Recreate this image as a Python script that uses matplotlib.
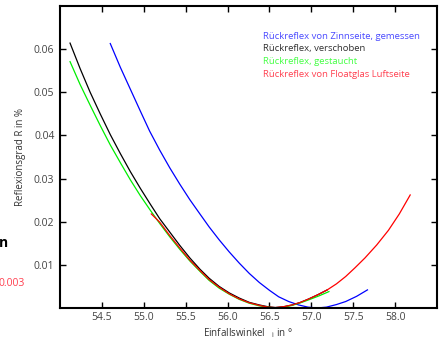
import matplotlib.pyplot as plt

plt.rcParams['font.family'] = ['Open Sans', 'DejaVu Sans']
plt.rcParams['mathtext.fontset'] = 'custom'
plt.rcParams['mathtext.rm'] = 'Open Sans'
plt.rcParams['mathtext.it'] = 'Open Sans'

# Rueckreflex von Zinnseite, gemessen
blue_x = [54.60, 54.72, 54.84, 54.96, 55.07, 55.19, 55.31, 55.43, 55.55, 55.67, 55.78, 55.90, 56.02, 56.14,
          56.26, 56.38, 56.50, 56.61, 56.73, 56.85, 56.96, 57.07, 57.18, 57.30, 57.41, 57.54, 57.67]
blue_y = [0.0613, 0.0558, 0.0507, 0.0456, 0.0410, 0.0366, 0.0325, 0.0287, 0.0251, 0.0218, 0.0188, 0.0158, 0.0130, 0.0104,
          0.0080, 0.0059, 0.0041, 0.0026, 0.0015, 0.0007, 0.0002, 0.0000, 0.0002, 0.0008, 0.0015, 0.0027, 0.0042]

# Rueckreflex, verschoben
black_x = [54.12, 54.24, 54.36, 54.48, 54.60, 54.72, 54.84, 54.96, 55.08, 55.19, 55.31, 55.43, 55.55, 55.67,
           55.78, 55.90, 56.02, 56.14, 56.26, 56.38, 56.48, 56.57, 56.67, 56.77, 56.87, 56.97, 57.08, 57.19]
black_y = [0.0614, 0.0555, 0.0500, 0.0450, 0.0402, 0.0358, 0.0316, 0.0277, 0.0240, 0.0207, 0.0176, 0.0145, 0.0116, 0.0090,
           0.0069, 0.0050, 0.0035, 0.0023, 0.0013, 0.0007, 0.0003, 0.0001, 0.0003, 0.0007, 0.0013, 0.0021, 0.0031, 0.0042]

# Rueckreflex, gestaucht
green_x = [54.12, 54.24, 54.36, 54.48, 54.60, 54.72, 54.84, 54.96, 55.08, 55.19, 55.31, 55.43, 55.55, 55.67,
           55.78, 55.90, 56.02, 56.14, 56.26, 56.38, 56.48, 56.57, 56.67, 56.77, 56.87, 56.97, 57.09, 57.21]
green_y = [0.0571, 0.0518, 0.0470, 0.0423, 0.0378, 0.0337, 0.0297, 0.0260, 0.0226, 0.0196, 0.0165, 0.0136, 0.0109, 0.0085,
           0.0064, 0.0046, 0.0032, 0.0020, 0.0011, 0.0005, 0.0002, 0.0000, 0.0002, 0.0006, 0.0012, 0.0019, 0.0028, 0.0038]

# Rueckreflex von Floatglas Luftseite
red_x = [55.09, 55.19, 55.31, 55.43, 55.55, 55.67, 55.78, 55.90, 56.02, 56.14, 56.26, 56.38, 56.48, 56.57,
         56.67, 56.77, 56.87, 56.97, 57.08, 57.19, 57.30, 57.41, 57.52, 57.64, 57.78, 57.92, 58.05, 58.18]
red_y = [0.0218, 0.0199, 0.0168, 0.0139, 0.0111, 0.0087, 0.0066, 0.0048, 0.0033, 0.0021, 0.0012, 0.0006, 0.0002, 0.0001,
         0.0003, 0.0007, 0.0013, 0.0021, 0.0031, 0.0042, 0.0056, 0.0073, 0.0093, 0.0116, 0.0146, 0.0180, 0.0218, 0.0262]

labels = ["Rückreflex von Zinnseite, gemessen", "Rückreflex, verschoben",
          "Rückreflex, gestaucht", "Rückreflex von Floatglas Luftseite"]
line_colors = ['#0000ff', '#000000', '#00ee00', '#ff0000']
text_colors = ['#4a4aff', '#303030', '#44ff44', '#ff4050']

xticks = [54.5, 55.0, 55.5, 56.0, 56.5, 57.0, 57.5, 58.0]
yticks = [0.01, 0.02, 0.03, 0.04, 0.05, 0.06]

fig = plt.figure(figsize=(4.46, 3.41), dpi=100)
ax = fig.add_axes([60/446, 1-308/341, 377/446, 302/341])

series = [(blue_x, blue_y), (black_x, black_y), (green_x, green_y), (red_x, red_y)]
for (xs, ys), c in zip(series, line_colors):
    ax.plot(xs, ys, color=c, lw=0.9)

ax.set_xlim(54.0, 58.5)
ax.set_ylim(0.0, 0.07)
ax.set_xticks(xticks)
ax.set_xticklabels([f"{t:.1f}" for t in xticks])
ax.set_yticks(yticks)
ax.set_yticklabels([f"{t:.2f}" for t in yticks])
ax.tick_params(direction='in', top=True, right=True, length=4, width=1,
               labelsize=7.5, labelcolor='#444444')
ax.tick_params(axis='x', pad=3)
ax.tick_params(axis='y', pad=4)
for s in ax.spines.values():
    s.set_linewidth(1.5)

ax.set_xlabel(r"Einfallswinkel   $_{i}$ in °", fontsize=7, color='#333333', labelpad=2)
ax.set_ylabel("Reflexionsgrad R in %", fontsize=7, color='#333333', labelpad=6)

for i, (lab, c) in enumerate(zip(labels, text_colors)):
    ax.text(0.538, 0.900 - i*0.042, lab, transform=ax.transAxes, color=c,
            fontsize=6.8, va='center', ha='left')

# fragments cut off at the left edge
fig.text(8/446, 1-243/341, "n", fontsize=10, fontweight='bold', ha='right', va='center')
fig.text(25/446, 1-283/341, "0.003", fontsize=7.5, color='#ff4050', ha='right', va='center')

fig.savefig('out.png', dpi=100)
